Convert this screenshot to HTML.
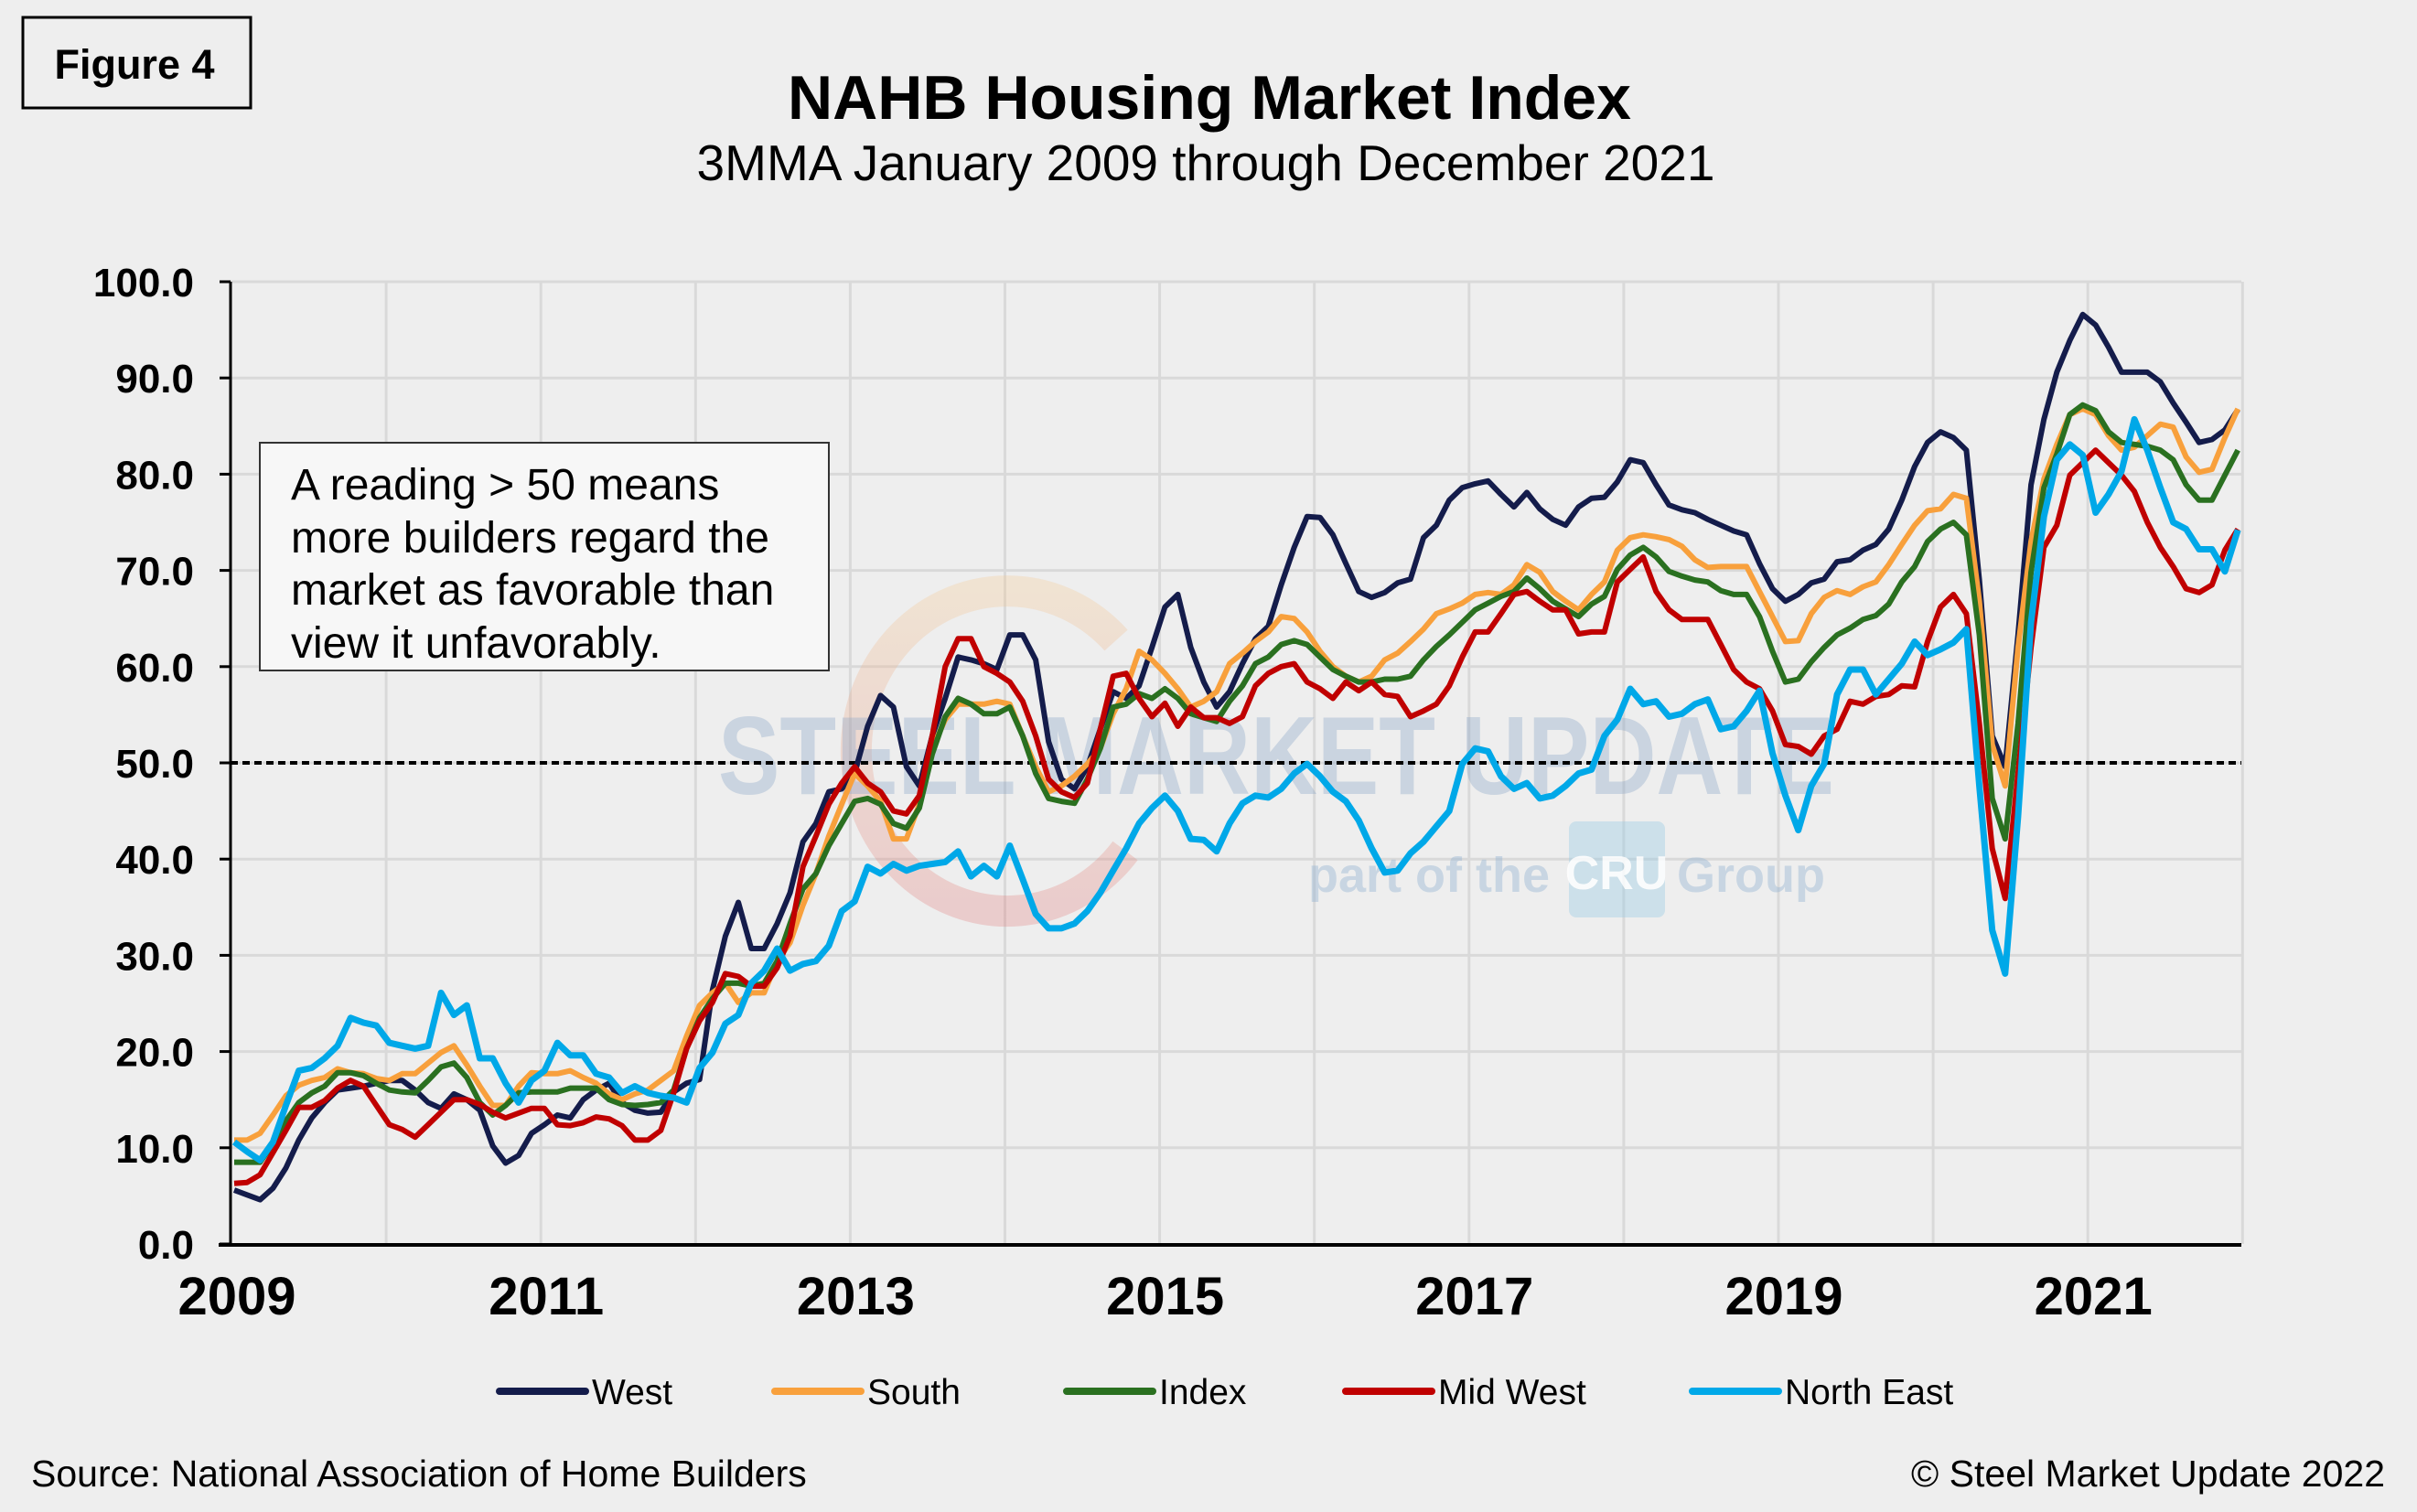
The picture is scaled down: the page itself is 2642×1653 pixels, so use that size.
<!DOCTYPE html>
<html><head><meta charset="utf-8"><style>
html,body{margin:0;padding:0;background:#eeeeee;}
svg{display:block;font-family:"Liberation Sans",Arial,sans-serif;}
</style></head><body>
<svg id="chart" width="2642" height="1653" viewBox="0 0 2642 1653" xmlns="http://www.w3.org/2000/svg">
<rect x="0" y="0" width="2642" height="1653" fill="#eeeeee"/>
<g>
<rect x="25" y="19" width="249" height="99" fill="none" stroke="#000" stroke-width="3"/>
<text x="147" y="86" font-size="45" font-weight="bold" text-anchor="middle">Figure 4</text>
</g>
<text x="1322" y="130" font-size="68" font-weight="bold" text-anchor="middle">NAHB Housing Market Index</text>
<text x="1318" y="197" font-size="55" text-anchor="middle">3MMA January 2009 through December 2021</text>
<g id="grid"></g>
<g opacity="0.9">
<defs><linearGradient id="sw" x1="0" y1="0" x2="0" y2="1"><stop offset="0" stop-color="#f6c48a"/><stop offset="1" stop-color="#e07070"/></linearGradient></defs>
<path d="M 1220 700 A 165 175 0 1 0 1230 930" fill="none" stroke="url(#sw)" stroke-width="34" opacity="0.3"/>
<text x="785" y="868" font-size="122" font-weight="bold" fill="#8aa6c8" opacity="0.4" textLength="1220" lengthAdjust="spacingAndGlyphs">STEEL MARKET UPDATE</text>
<text x="1430" y="975" font-size="54" font-weight="bold" fill="#9ab8d4" opacity="0.5">part of the</text>
<rect x="1715" y="898" width="105" height="105" rx="8" fill="#9ccbe4" opacity="0.45"/>
<text x="1767" y="972" font-size="52" font-weight="bold" fill="#ffffff" text-anchor="middle" opacity="0.9">CRU</text>
<text x="1833" y="975" font-size="54" font-weight="bold" fill="#9ab8d4" opacity="0.5">Group</text>
</g>
<g id="axes"></g>
<g id="series"></g>
<g>
<rect x="284" y="484" width="622" height="249" fill="#f7f7f7" stroke="#333" stroke-width="2"/>
<text x="318" y="546" font-size="48">A reading &gt; 50 means</text>
<text x="318" y="604" font-size="48">more builders regard the</text>
<text x="318" y="661" font-size="48">market as favorable than</text>
<text x="318" y="719" font-size="48">view it unfavorably.</text>
</g>
<g id="legend"></g>
<text x="34" y="1625" font-size="41">Source: National Association  of Home Builders</text>
<text x="2607" y="1625" font-size="41" text-anchor="end">© Steel Market Update 2022</text>
</svg>
<script>
const seriesNames = ["West","South","Index","Mid West","North East"];
const seriesColors = ["#141c4b","#f8a03c","#2a7020","#c00000","#00a8e8"];
const yTicks = [0,10,20,30,40,50,60,70,80,90,100];
const xTickLabels = ["2009","2011","2013","2015","2017","2019","2021"];
const xTickYears = [2009,2011,2013,2015,2017,2019,2021];
const threshold = 50;
const west = [5.6,5.1,4.6,5.8,7.9,10.8,13.1,14.7,16,16.2,16.4,16.7,17,17,16,14.7,14.1,15.6,15,13.9,10.2,8.4,9.2,11.5,12.4,13.4,13.1,15,16,16.7,14.7,13.9,13.6,
13.7,15.8,16.7,17.1,26.4,32,35.5,30.7,30.7,33.3,36.5,41.8,43.7,47,47.3,48.9,53.8,57,55.8,49.6,47.6,52.8,56.7,61,60.7,60.3,59.7,63.3,63.3,60.7,52.2,48.3,
47.3,49.6,53.5,57.4,56.7,58,62,66.2,67.5,62,58.4,55.8,57.4,60.3,62.9,64.2,68.5,72.4,75.6,75.5,73.7,70.7,67.8,67.2,67.7,68.7,69.1,73.4,74.7,77.3,78.6,79,
79.3,77.9,76.6,78.1,76.4,75.3,74.7,76.6,77.5,77.6,79.2,81.5,81.2,78.9,76.8,76.3,76,75.3,74.7,74.1,73.7,70.7,68.1,66.8,67.5,68.7,69.1,70.9,71.1,72.1,72.7,
74.3,77.3,80.8,83.3,84.4,83.8,82.5,69,52.8,49.6,63.3,78.9,85.7,90.6,93.9,96.6,95.5,93.2,90.6,90.6,90.6,89.6,87.4,85.4,83.3,83.6,84.6,86.7];
const south = [10.8,10.8,11.5,13.4,15.4,16.5,17,17.3,18.2,17.8,17.7,17.2,17,17.7,17.7,18.8,19.9,20.6,18.6,16.4,14.4,14.4,16.4,17.8,17.7,17.7,18,17.3,16.7,15.6,15,15.6,16,
17,18,21.6,24.8,26.1,27.1,25.1,26.1,26.1,29.4,31.3,35.2,38.5,42.4,45.7,48.9,47.6,46,42.1,42.1,45.7,51.5,54.5,56.1,56.1,56.1,56.4,56.1,52.8,49.6,47,47.6,
48.6,49.9,51.5,55.1,57.7,61.6,60.7,59.3,57.7,55.8,56.4,57.4,60.3,61.4,62.6,63.6,65.2,65,63.6,61.6,60,59,58.4,59,60.7,61.4,62.6,63.9,65.5,66,66.6,67.5,
67.7,67.5,68.5,70.6,69.8,67.8,66.8,65.9,67.5,68.8,72.1,73.4,73.7,73.5,73.2,72.5,71.1,70.3,70.4,70.4,70.4,67.8,65.2,62.6,62.7,65.5,67.2,67.9,67.5,68.3,68.8,
70.6,72.7,74.7,76.2,76.4,77.9,77.5,66.8,51.9,47.6,62,73,79.5,83.1,86.2,86.8,86.2,84,82.5,82.8,84,85.2,84.9,81.8,80.2,80.5,83.8,86.8];
const indexVals = [8.5,8.5,8.5,10.4,12.8,14.7,15.7,16.4,17.8,17.8,17.5,16.7,16,15.8,15.7,17,18.4,18.8,17.3,14.7,13.4,14.4,15.7,15.8,15.8,15.8,16.2,16.2,16.2,15,14.5,14.4,14.5,
14.7,16,20.3,23.5,25.5,27.1,27.1,26.8,27.1,29.4,33.3,36.9,38.5,41.4,43.7,46,46.3,45.7,43.7,43.2,45.3,50.9,54.8,56.7,56.1,55.1,55.1,55.8,52.8,48.9,46.3,46,
45.8,48.3,51.5,55.8,56.1,57.2,56.7,57.7,56.7,55.1,54.7,54.3,56.4,58,60.3,61,62.3,62.7,62.3,61,59.7,59,58.4,58.4,58.7,58.7,59,60.7,62.1,63.3,64.6,65.9,
66.6,67.3,67.8,69.2,68.1,66.8,66,65.2,66.5,67.3,70.1,71.6,72.4,71.4,69.9,69.4,69,68.8,67.9,67.5,67.5,65.2,61.6,58.4,58.7,60.5,62,63.3,64,64.9,65.3,
66.5,68.8,70.4,73,74.3,75,73.7,63.3,46.3,42.1,54.1,69.8,78.6,82.1,86.2,87.2,86.6,84.4,83.3,83.1,82.9,82.5,81.5,78.9,77.3,77.3,79.9,82.5];
const midWest = [6.3,6.4,7.2,9.5,11.8,14.2,14.2,14.9,16.2,17,16.4,14.4,12.4,11.9,11.1,12.4,13.7,15,15,14.5,13.7,13.1,13.6,14.1,14.1,12.4,12.3,12.6,13.2,13,12.3,10.8,10.8,
11.8,15.7,20.3,23.2,25.1,28.1,27.8,26.8,26.8,28.7,32,39.2,42.4,45.7,47.9,49.6,47.9,47,45,44.7,46.6,52.8,60,62.9,62.9,60,59.3,58.4,56.4,52.8,48.3,47,
46.4,47.9,53.5,59,59.3,56.7,54.8,56.2,53.8,55.8,54.7,54.7,54.1,54.8,58,59.3,60,60.3,58.4,57.7,56.7,58.4,57.5,58.4,57.1,56.9,54.8,55.4,56.1,58,61,63.6,
63.6,65.5,67.5,67.8,66.8,65.9,65.9,63.4,63.6,63.6,68.8,70.1,71.4,67.8,65.9,64.9,64.9,64.9,62.3,59.7,58.4,57.7,55.4,51.9,51.7,50.9,52.8,53.5,56.4,56.1,56.9,
57.1,58,57.9,62.6,66.2,67.5,65.5,54.1,41.1,35.9,48.9,62,72.4,74.7,79.9,81.2,82.5,81.2,79.9,78.2,75,72.4,70.4,68.1,67.7,68.5,72.1,74.3];
const northEast = [10.6,9.6,8.7,10.6,14.4,18,18.3,19.3,20.6,23.5,23,22.7,20.9,20.6,20.3,20.6,26.1,23.8,24.8,19.3,19.3,16.7,14.7,17,18,20.9,19.6,19.6,17.7,17.3,15.7,16.4,15.7,
15.4,15.2,14.7,18.3,19.9,22.9,23.8,27.1,28.4,30.7,28.4,29.1,29.4,31,34.6,35.6,39.2,38.5,39.5,38.8,39.3,39.5,39.7,40.8,38.2,39.3,38.2,41.4,37.9,34.3,32.8,32.8,
33.3,34.6,36.5,38.8,41.1,43.7,45.3,46.6,45,42.1,42,40.8,43.7,45.8,46.6,46.4,47.3,48.9,49.9,48.6,47,46,44,41.1,38.6,38.8,40.6,41.8,43.4,45,49.9,51.5,
51.2,48.6,47.3,47.9,46.3,46.6,47.6,48.9,49.3,52.8,54.5,57.7,56.1,56.4,54.8,55.1,56.1,56.6,53.5,53.8,55.4,57.5,51,46.6,43,47.6,49.9,57.1,59.7,59.7,57.1,
58.7,60.3,62.6,61.2,61.8,62.5,63.9,47.6,32.6,28.1,44.4,64.6,75.6,81.5,83.1,82,76,77.9,80.3,85.7,82.5,78.6,75,74.3,72.2,72.2,69.9,74.2];
const allSeries = [west, south, indexVals, midWest, northEast];

const NS = "http://www.w3.org/2000/svg";
const plotL = 252, plotR = 2450, plotT = 308, plotB = 1360;
const yearW = 169.1;
function yScale(v){ return plotB - (v/100)*(plotB-plotT); }
function xYear(yr){ return 253 + (yr-2009)*yearW; }
function xMonth(i){ return 256 + i*14.13; }
function mk(tag, attrs, parent){ const e=document.createElementNS(NS,tag); for(const k in attrs) e.setAttribute(k,attrs[k]); parent.appendChild(e); return e; }

const grid = document.getElementById('grid');
for (let yr=2010; yr<=2022; yr++){
  const l = mk('line',{x1:xYear(yr),x2:xYear(yr),y1:plotT,y2:plotB,stroke:'#d9d9d9','stroke-width':3},grid);
  
  
}
yTicks.forEach(v=>{
  if (v===0) return;
  const l = mk('line',{x1:plotL,x2:plotR,y1:yScale(v),y2:yScale(v),stroke:'#d9d9d9','stroke-width':3},grid);
  
  
});

const axes = document.getElementById('axes');
const ya = mk('line',{x1:plotL,x2:plotL,y1:plotT,y2:plotB,stroke:'#000','stroke-width':3},axes);


yTicks.forEach(v=>{
  const t = mk('line',{x1:plotL-12,x2:plotL,y1:yScale(v),y2:yScale(v),stroke:'#000','stroke-width':3},axes);
  
  
  const tx = mk('text',{x:212,y:yScale(v)+16,'font-size':44,'font-weight':'bold','text-anchor':'end'},axes);
  tx.textContent = v.toFixed(1);
  
  
});
const xa = mk('line',{x1:plotL-13,x2:plotR,y1:plotB+1,y2:plotB+1,stroke:'#000','stroke-width':4},axes);


xTickLabels.forEach((lab,k)=>{
  const tx = mk('text',{x:xYear(xTickYears[k])+6,y:1437,'font-size':58,'font-weight':'bold','text-anchor':'middle'},axes);
  tx.textContent = lab;
  
  
});
const th = mk('line',{x1:plotL,x2:plotR,y1:yScale(threshold),y2:yScale(threshold),stroke:'#000','stroke-width':4,'stroke-dasharray':'8 5'},axes);



const sg = document.getElementById('series');
allSeries.forEach((arr,s)=>{
  const pts = arr.map((v,i)=>xMonth(i).toFixed(1)+','+yScale(v).toFixed(1)).join(' ');
  const pl = mk('polyline',{points:pts,fill:'none',stroke:seriesColors[s],'stroke-width':s===4?7:6,'stroke-linejoin':'round'},sg);
  
  
});

const lg = document.getElementById('legend');
const legX = [546,847,1166,1471,1850];
seriesNames.forEach((n,s)=>{
  const g = mk('g',{},lg);
  
  
  mk('line',{x1:legX[s],x2:legX[s]+94,y1:1521,y2:1521,stroke:seriesColors[s],'stroke-width':8,'stroke-linecap':'round'},g);
  const t = mk('text',{x:legX[s]+101,y:1535,'font-size':39},g);
  t.textContent = n;
});
</script>
</body></html>
